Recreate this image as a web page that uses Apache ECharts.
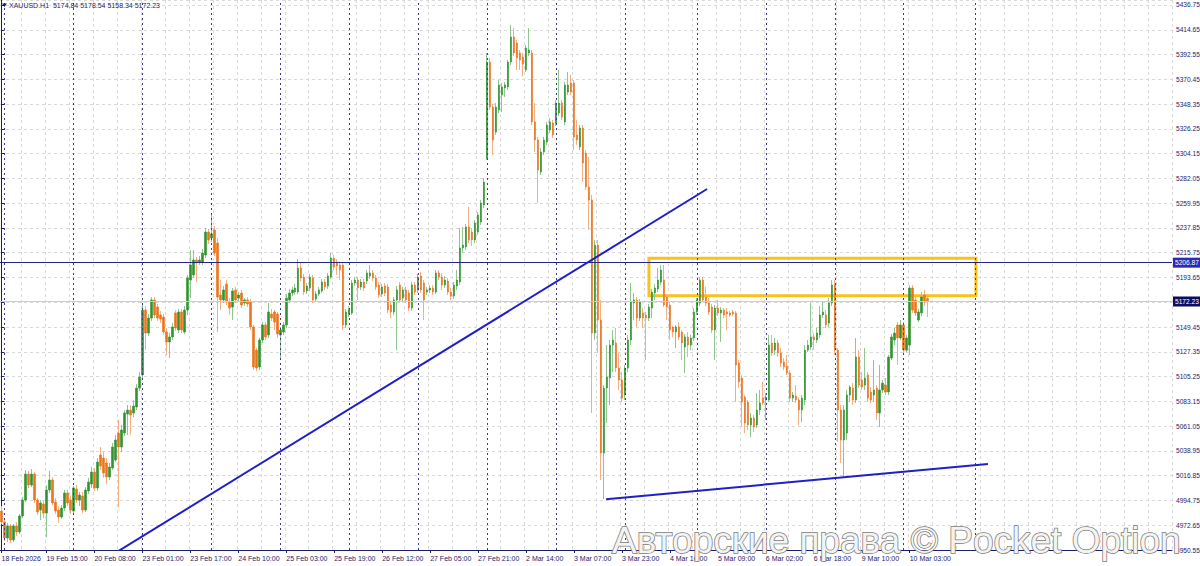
<!DOCTYPE html>
<html><head><meta charset="utf-8">
<script src="https://cdn.jsdelivr.net/npm/echarts@6/dist/echarts.min.js"></script>
<style>html,body{margin:0;padding:0;background:#fff}#c{width:1200px;height:566px}</style>
</head><body><div id="c"></div>
<script>
const symbolName = 'XAUUSD.H1';
const watermark = 'Авторские права © Pocket Option';
const tickLabels = ['18 Feb 2026','19 Feb 15:00','20 Feb 08:00','23 Feb 01:00','23 Feb 17:00','24 Feb 10:00','25 Feb 03:00','25 Feb 19:00','26 Feb 12:00','27 Feb 05:00','27 Feb 21:00','2 Mar 14:00','3 Mar 07:00','3 Mar 23:00','4 Mar 16:00','5 Mar 09:00','6 Mar 02:00','6 Mar 18:00','9 Mar 10:00','10 Mar 03:00'];
const slotCount = 391; // bars visible incl. empty right margin
const daySeparators = [1,24,47,70,93,116,139,162,185,208,232,255,278,301,325];
const priceLevel = 5206.87;
const trendLineA = [[38.5, 4948.8], [235.4, 5272.6]];
const trendLineB = [[201.7, 4995.8], [329.1, 5027.3]];
const zoneBox = [[216.0, 5210.8], [325.1, 5177.4]];
const yMin = 4950.55, yMax = 5441.2, yStep = 22.1;
// [open, close, low, high]
const candles = [
[4985.3,4975.5,4973.7,4989.8],[4975.5,4961.3,4958.6,4979.1],[4961.3,4972.0,4957.7,4974.6],[4972.0,4959.5,4956.8,4973.7],[4959.5,4972.0,4957.7,4973.7],[4972.0,4966.6,4963.0,4975.5],[4966.6,4980.9,4964.8,4982.7],[4980.9,4995.1,4979.1,4997.8],[4995.1,5018.3,4993.4,5021.9],[5018.3,5008.5,5005.9,5021.0],
[5008.5,5018.3,5006.7,5022.8],[5018.3,4995.1,4992.5,5020.1],[4995.1,4984.4,4981.8,4996.9],[4986.2,4992.5,4977.3,4995.1],[4991.6,4983.5,4979.1,4994.3],[4983.5,5004.1,4962.1,5008.5],[5004.1,5013.0,5001.4,5021.0],[5013.0,4992.5,4990.7,5015.7],[4993.4,4985.3,4982.7,4996.9],[4986.2,4980.0,4974.6,4989.8],
[4980.0,4988.0,4978.2,4990.7],[4988.0,5001.4,4985.3,5004.1],[5001.4,4992.5,4989.8,5004.1],[4995.1,4986.2,4982.7,4998.7],[4985.3,5005.9,4982.7,5007.6],[5005.0,4995.1,4992.5,5008.5],[4995.1,4999.6,4989.8,5002.3],[4998.7,4986.2,4983.5,5002.3],[4986.2,5004.1,4984.4,5006.7],[5003.2,5011.2,5000.5,5014.8],
[5009.4,5020.1,5005.9,5024.6],[5020.1,5005.9,5003.2,5023.7],[5005.9,5029.0,5003.2,5032.6],[5035.3,5025.5,5021.9,5042.4],[5032.6,5019.2,5014.8,5038.0],[5028.2,5015.7,5009.4,5032.6],[5015.7,5024.6,5013.0,5028.2],[5023.7,5042.4,5021.9,5046.0],[5030.8,5048.7,5029.0,5053.1],[5054.9,5042.4,4988.9,5066.5],
[5042.4,5057.6,5038.0,5062.1],[5054.9,5072.8,5052.2,5075.4],[5071.9,5075.4,5053.1,5079.9],[5075.4,5071.0,5053.1,5079.9],[5072.8,5079.0,5069.2,5084.4],[5078.1,5095.0,5075.4,5098.6],[5095.0,5104.9,5092.4,5109.3],[5106.7,5164.6,5104.0,5170.9],[5164.6,5144.1,5128.9,5168.2],[5144.1,5157.5,5141.5,5161.1],
[5157.5,5173.6,5154.8,5176.2],[5173.6,5160.2,5157.5,5176.2],[5167.3,5157.5,5154.8,5170.0],[5160.2,5156.6,5153.1,5163.8],[5158.4,5145.0,5142.4,5161.1],[5145.0,5136.1,5124.5,5148.6],[5136.1,5140.6,5121.8,5144.1],[5140.6,5149.5,5137.9,5153.1],[5162.0,5148.6,5145.9,5164.6],[5146.8,5162.9,5144.1,5165.5],
[5162.9,5146.8,5144.1,5165.5],[5145.0,5164.6,5143.2,5168.2],[5164.6,5193.2,5160.2,5195.9],[5191.4,5204.8,5175.3,5218.2],[5195.9,5209.3,5193.2,5218.2],[5209.3,5206.6,5189.6,5211.9],[5207.5,5209.3,5204.8,5212.8],[5207.5,5215.5,5204.8,5219.1],[5213.7,5234.2,5211.0,5237.8],[5234.2,5227.1,5223.5,5236.9],
[5228.9,5232.5,5225.3,5249.4],[5236.0,5215.5,5212.8,5239.6],[5224.4,5176.2,5145.0,5228.9],[5178.0,5173.6,5164.6,5191.4],[5173.6,5182.5,5170.9,5186.1],[5187.8,5171.8,5169.1,5191.4],[5171.8,5166.4,5160.2,5175.3],[5167.3,5181.6,5155.7,5184.3],[5182.5,5173.6,5170.9,5185.2],[5175.3,5178.0,5171.8,5180.7],
[5179.8,5169.1,5166.4,5182.5],[5170.9,5173.6,5168.2,5175.3],[5173.6,5170.0,5167.3,5176.2],[5171.8,5149.5,5146.8,5174.4],[5149.5,5113.8,5111.1,5151.3],[5128.9,5112.9,5110.2,5130.7],[5113.8,5137.9,5111.1,5139.7],[5137.9,5151.3,5135.2,5153.9],[5151.3,5140.6,5137.9,5153.9],[5142.4,5162.9,5139.7,5170.9],
[5161.1,5157.5,5154.8,5165.5],[5162.9,5153.9,5146.8,5164.6],[5161.1,5143.2,5139.7,5162.9],[5142.4,5146.8,5120.0,5149.5],[5145.0,5151.3,5142.4,5153.9],[5151.3,5175.3,5148.6,5178.9],[5173.6,5179.8,5170.9,5183.4],[5179.8,5182.5,5177.1,5185.2],[5180.7,5184.3,5178.0,5187.8],[5180.7,5202.1,5178.9,5210.1],
[5202.1,5193.2,5190.5,5207.5],[5194.1,5180.7,5178.0,5196.8],[5181.6,5186.1,5178.9,5188.7],[5184.3,5194.1,5181.6,5196.8],[5193.2,5173.6,5170.9,5195.9],[5174.4,5178.9,5171.8,5181.6],[5178.9,5182.5,5177.1,5185.2],[5181.6,5189.6,5179.8,5192.3],[5189.6,5185.2,5182.5,5192.3],[5186.1,5195.0,5183.4,5197.7],
[5194.1,5211.0,5192.3,5215.5],[5211.0,5203.0,5200.3,5213.7],[5207.5,5203.9,5195.9,5210.1],[5204.8,5200.3,5191.4,5207.5],[5204.8,5151.3,5146.8,5207.5],[5151.3,5162.9,5148.6,5165.5],[5161.1,5164.6,5158.4,5168.2],[5162.0,5188.7,5160.2,5191.4],[5188.7,5191.4,5186.1,5194.1],[5191.4,5184.3,5173.6,5194.1],
[5185.2,5189.6,5182.5,5192.3],[5189.6,5184.3,5181.6,5192.3],[5190.5,5197.7,5187.8,5200.3],[5195.0,5197.7,5192.3,5204.8],[5197.7,5193.2,5190.5,5200.3],[5193.2,5185.2,5182.5,5195.9],[5186.9,5178.0,5175.3,5189.6],[5178.9,5185.2,5176.2,5187.8],[5186.1,5179.8,5177.1,5188.7],[5185.2,5164.6,5162.0,5187.8],
[5169.1,5162.9,5157.5,5171.8],[5162.9,5173.6,5160.2,5176.2],[5173.6,5182.5,5128.9,5186.1],[5186.9,5173.6,5170.9,5189.6],[5175.3,5182.5,5171.8,5185.2],[5182.5,5173.6,5170.9,5185.2],[5179.8,5166.4,5163.8,5182.5],[5166.4,5186.9,5163.8,5189.6],[5186.9,5180.7,5178.0,5189.6],[5182.5,5194.1,5179.8,5196.8],
[5195.0,5182.5,5179.8,5198.6],[5188.7,5173.6,5155.7,5191.4],[5180.7,5182.5,5178.0,5185.2],[5182.5,5184.3,5179.8,5186.9],[5184.3,5180.7,5178.0,5186.9],[5180.7,5197.7,5178.9,5200.3],[5197.7,5194.1,5191.4,5200.3],[5194.1,5186.9,5182.5,5197.7],[5186.9,5191.4,5184.3,5195.0],[5190.5,5180.7,5178.0,5193.2],
[5180.7,5177.1,5173.6,5184.3],[5177.1,5186.9,5174.4,5189.6],[5186.1,5191.4,5182.5,5200.3],[5189.6,5220.0,5186.9,5237.8],[5220.0,5222.6,5215.5,5238.7],[5220.9,5238.7,5218.2,5241.4],[5238.7,5227.1,5224.4,5256.5],[5234.2,5227.1,5221.7,5237.8],[5227.1,5242.3,5224.4,5244.9],[5234.2,5249.4,5231.6,5252.1],
[5243.2,5260.1,5240.5,5262.8],[5258.3,5278.8,5255.6,5282.4],[5300.2,5385.9,5298.5,5393.9],[5385.9,5345.7,5343.1,5389.5],[5345.7,5316.3,5302.9,5348.4],[5323.4,5345.7,5320.8,5349.3],[5343.1,5365.4,5340.4,5369.8],[5356.4,5363.6,5341.3,5367.2],[5362.7,5365.4,5354.7,5368.0],[5363.6,5385.9,5360.9,5387.7],
[5385.9,5408.2,5383.2,5418.9],[5408.2,5393.9,5391.2,5416.2],[5402.8,5389.5,5378.8,5405.5],[5393.9,5387.7,5378.8,5396.6],[5390.4,5384.1,5373.4,5393.9],[5378.8,5398.4,5377.0,5401.1],[5393.9,5396.6,5391.2,5416.2],[5393.9,5332.4,5329.7,5396.6],[5332.4,5316.3,5305.6,5349.3],[5316.3,5289.5,5260.1,5319.0],
[5287.8,5305.6,5285.1,5309.2],[5305.6,5316.3,5302.9,5319.0],[5314.5,5329.7,5311.8,5332.4],[5325.2,5332.4,5322.5,5335.9],[5331.5,5320.8,5318.1,5334.1],[5331.5,5349.3,5328.8,5352.0],[5340.4,5349.3,5337.7,5378.8],[5349.3,5336.8,5334.1,5352.0],[5332.4,5365.4,5329.7,5368.0],[5359.1,5365.4,5356.4,5377.0],
[5367.2,5359.1,5356.4,5374.3],[5367.2,5319.0,5307.4,5369.8],[5320.8,5316.3,5311.8,5334.1],[5310.1,5327.0,5307.4,5329.7],[5327.0,5295.8,5278.8,5329.7],[5304.7,5274.4,5271.7,5307.4],[5274.4,5262.8,5236.0,5301.1],[5262.8,5144.1,5072.8,5267.2],[5144.1,5222.6,5137.9,5227.1],[5222.6,5155.7,5126.3,5227.1],
[5155.7,5037.1,5013.0,5173.6],[5037.1,5095.0,4996.0,5097.7],[5095.0,5104.9,5063.8,5133.4],[5104.0,5133.4,5079.9,5137.9],[5133.4,5137.9,5109.3,5146.8],[5135.2,5112.9,5109.3,5148.6],[5112.9,5102.2,5093.3,5126.3],[5102.2,5086.1,5082.6,5109.3],[5088.8,5112.9,5084.4,5115.6],[5112.9,5137.9,5109.3,5142.4],
[5137.9,5171.8,5133.4,5188.7],[5170.9,5173.6,5155.7,5179.8],[5173.6,5157.5,5149.5,5176.2],[5157.5,5171.8,5154.8,5174.4],[5162.0,5157.5,5148.6,5166.4],[5160.2,5157.5,5120.0,5162.9],[5157.5,5167.3,5154.8,5170.0],[5166.4,5180.7,5157.5,5183.4],[5179.8,5184.3,5173.6,5187.8],[5183.4,5191.4,5180.7,5202.1],
[5189.6,5200.3,5186.9,5204.8],[5191.4,5169.1,5167.3,5204.8],[5176.2,5167.3,5155.7,5178.9],[5169.1,5146.8,5137.9,5171.8],[5149.5,5145.0,5140.6,5150.4],[5145.0,5149.5,5130.7,5151.3],[5149.5,5140.6,5137.9,5153.9],[5145.0,5135.2,5120.0,5146.8],[5131.6,5140.6,5108.4,5143.2],[5140.6,5133.4,5122.7,5145.0],
[5133.4,5139.7,5128.9,5142.4],[5139.7,5162.9,5137.0,5166.4],[5162.9,5173.6,5160.2,5175.3],[5170.9,5191.4,5168.2,5194.1],[5191.4,5173.6,5171.8,5194.1],[5176.2,5170.9,5168.2,5185.2],[5170.9,5162.9,5160.2,5175.3],[5167.3,5146.8,5144.1,5170.0],[5146.8,5166.4,5120.0,5169.1],[5166.4,5162.0,5159.3,5173.6],
[5162.0,5164.6,5136.1,5167.3],[5164.6,5160.2,5157.5,5166.4],[5162.9,5161.1,5146.8,5166.4],[5162.0,5160.2,5158.4,5163.8],[5162.9,5161.1,5159.3,5164.6],[5162.0,5115.6,5082.6,5163.8],[5117.4,5100.4,5095.0,5120.0],[5104.0,5082.6,5060.3,5106.7],[5087.0,5063.8,5054.9,5088.8],[5082.6,5062.1,5057.6,5084.4],
[5062.1,5068.3,5051.3,5072.8],[5068.3,5060.3,5055.8,5071.0],[5062.1,5075.4,5059.4,5090.6],[5075.4,5081.7,5071.0,5093.3],[5086.1,5081.7,5079.9,5100.4],[5084.4,5087.0,5066.5,5090.6],[5084.4,5133.4,5082.6,5142.4],[5135.2,5126.3,5123.6,5142.4],[5128.9,5135.2,5124.5,5139.7],[5135.2,5126.3,5122.7,5137.9],
[5126.3,5117.4,5113.8,5130.7],[5118.3,5113.8,5111.1,5121.8],[5114.7,5108.4,5106.7,5124.5],[5108.4,5086.1,5082.6,5111.1],[5086.1,5088.8,5082.6,5091.5],[5087.9,5084.4,5081.7,5097.7],[5084.4,5075.4,5062.1,5087.0],[5075.4,5086.1,5064.7,5088.8],[5084.4,5128.9,5079.9,5133.4],[5128.9,5133.4,5127.2,5137.9],
[5131.6,5140.6,5128.9,5170.9],[5140.6,5137.9,5128.9,5144.1],[5137.9,5144.1,5135.2,5148.6],[5142.4,5160.2,5139.7,5168.2],[5160.2,5162.9,5157.5,5171.8],[5160.2,5151.3,5148.6,5164.6],[5153.1,5170.9,5149.5,5175.3],[5170.9,5186.9,5168.2,5191.4],[5186.9,5128.9,5124.5,5191.4],[5128.9,5075.4,5046.9,5130.7],
[5075.4,5048.7,5028.2,5079.9],[5048.7,5075.4,5015.7,5079.9],[5054.9,5088.8,5048.7,5093.3],[5088.8,5095.9,5082.6,5097.7],[5095.0,5084.4,5079.9,5099.5],[5084.4,5122.7,5081.7,5139.7],[5122.7,5097.7,5095.0,5128.9],[5102.2,5095.9,5093.3,5109.3],[5097.7,5104.0,5093.3,5130.7],[5106.7,5086.1,5082.6,5109.3],
[5091.5,5084.4,5081.7,5095.9],[5088.8,5093.3,5082.6,5120.0],[5095.0,5072.8,5066.5,5097.7],[5072.8,5093.3,5060.3,5115.6],[5093.3,5099.5,5090.6,5102.2],[5097.7,5091.5,5088.8,5104.0],[5091.5,5122.7,5088.8,5124.5],[5121.8,5140.6,5120.0,5143.2],[5137.9,5144.1,5133.4,5148.6],[5151.3,5139.7,5115.6,5153.9],
[5139.7,5151.3,5137.9,5155.7],[5151.3,5128.9,5126.3,5153.9],[5128.9,5139.7,5127.2,5142.4],[5133.4,5184.3,5124.5,5186.9],[5184.3,5164.6,5162.0,5186.9],[5173.6,5162.0,5159.3,5176.2],[5155.7,5162.9,5153.9,5165.5],[5162.0,5176.2,5159.3,5180.7],[5178.0,5171.8,5168.2,5182.5],[5174.84,5172.23,5158.34,5178.54]
];

const NAVY = '#1d1d6e';
const FONT = 'Liberation Sans';
const slots = Array.from({length: slotCount}, (_, i) => i);
const bodies = candles.map(c => [c[0], c[1], Math.min(c[0], c[1]), Math.max(c[0], c[1])]);
const last = candles[candles.length - 1];
const titleText = symbolName + '  ' + [last[0], last[3], last[2], last[1]].map(v => v.toFixed(2)).join(' ');
const isLabelIdx = (i) => i === 0 || ((i + 1) % 16 === 0 && (i + 1) / 16 < tickLabels.length);

const chart = echarts.init(document.getElementById('c'), null, {renderer: 'svg'});
chart.setOption({
  animation: false,
  backgroundColor: '#ffffff',
  textStyle: {fontFamily: FONT},
  title: {text: titleText, left: 9, top: 2, padding: 0,
    textStyle: {fontSize: 7, fontWeight: 'normal', color: NAVY, fontFamily: FONT}},
  grid: {left: 0, right: 28, top: 0, bottom: 16, containLabel: false, outerBoundsMode: 'none'},
  xAxis: [{
    type: 'category', data: slots, boundaryGap: true,
    axisLine: {show: true, lineStyle: {color: NAVY, width: 1}},
    axisTick: {show: true, alignWithLabel: true, length: 3, interval: (i) => isLabelIdx(i), lineStyle: {color: NAVY}},
    axisLabel: {show: true, interval: (i) => isLabelIdx(i), align: 'left', margin: 5,
      fontSize: 7, color: NAVY, fontFamily: FONT,
      formatter: (v, i) => i === 0 ? tickLabels[0] : (tickLabels[(i + 1) / 16] || '')},
    splitLine: {show: true, interval: (i) => (i + 1) % 8 === 0,
      lineStyle: {color: '#d9d9d9', type: [3, 3], width: 1}}
  }, {
    type: 'value', min: -0.5, max: slotCount - 0.5, show: false
  }],
  yAxis: [{
    type: 'value', position: 'right', min: yMin, max: yMax, interval: yStep,
    axisLine: {show: true, lineStyle: {color: NAVY, width: 1}},
    axisTick: {show: true, length: 3, lineStyle: {color: NAVY}},
    axisLabel: {show: true, margin: 4, fontSize: 6.6, color: NAVY, fontFamily: FONT,
      showMaxLabel: false, formatter: v => v.toFixed(2)},
    splitLine: {show: true, lineStyle: {color: '#d9d9d9', type: [3, 3], width: 1}}
  }],
  graphic: [
    {type: 'polygon', shape: {points: [[2, 3.5], [7, 3.5], [4.5, 7]]}, style: {fill: NAVY}, z: 50},
    {type: 'text', x: 612, y: 540, z: 100, silent: true,
      style: {text: watermark, fontSize: 37, fontFamily: FONT, fill: '#f3f3f3',
        stroke: '#7a7a7a', lineWidth: 1.5, verticalAlign: 'middle', align: 'left'}}
  ],
  series: [
    {
      name: 'wicks', type: 'candlestick', xAxisIndex: 0, yAxisIndex: 0, z: 2,
      data: candles, barWidth: 1, silent: true,
      itemStyle: {color: 'rgba(0,0,0,0)', color0: 'rgba(0,0,0,0)',
        borderColor: '#8fc68f', borderColor0: '#f4ae84', borderWidth: 1},
      markLine: {
        silent: true, symbol: 'none', animation: false,
        data: [
          ...daySeparators.map(d => ({xAxis: d, lineStyle: {color: '#3c3c88', type: [2, 3], width: 1}, label: {show: false}})),
          {yAxis: last[1], lineStyle: {color: '#cdcdcd', type: 'solid', width: 1},
            label: {show: true, position: 'end', distance: 1, formatter: () => last[1].toFixed(2),
              color: '#ffffff', backgroundColor: '#0c0c62', padding: [2, 2, 1, 2], fontSize: 6.6, fontFamily: FONT}}
        ]
      }
    },
    {
      name: 'bodies', type: 'candlestick', xAxisIndex: 0, yAxisIndex: 0, z: 3,
      data: bodies, barWidth: 2, silent: true,
      itemStyle: {color: '#2f932f', color0: '#ec7319', borderColor: '#2f932f', borderColor0: '#ec7319', borderWidth: 0.6}
    },
    {
      name: 'trendA', type: 'line', xAxisIndex: 1, yAxisIndex: 0, z: 5,
      data: trendLineA, symbol: 'none', silent: true,
      lineStyle: {color: '#2020c8', width: 2},
      markLine: {
        silent: true, symbol: 'none',
        data: [{yAxis: priceLevel, lineStyle: {color: '#22228a', type: 'solid', width: 1},
          label: {show: true, position: 'end', distance: 1, formatter: () => priceLevel.toFixed(2),
            color: '#ffffff', backgroundColor: '#2a2ab8', padding: [2, 2, 1, 2], fontSize: 6.6, fontFamily: FONT}}]
      }
    },
    {
      name: 'trendB', type: 'line', xAxisIndex: 1, yAxisIndex: 0, z: 5,
      data: trendLineB, symbol: 'none', silent: true,
      lineStyle: {color: '#2020c8', width: 2},
      markArea: {
        silent: true,
        itemStyle: {color: 'rgba(0,0,0,0)', borderColor: '#f8c21a', borderWidth: 3},
        data: [[{coord: zoneBox[0]}, {coord: zoneBox[1]}]]
      }
    }
  ]
});
</script>
</body></html>
